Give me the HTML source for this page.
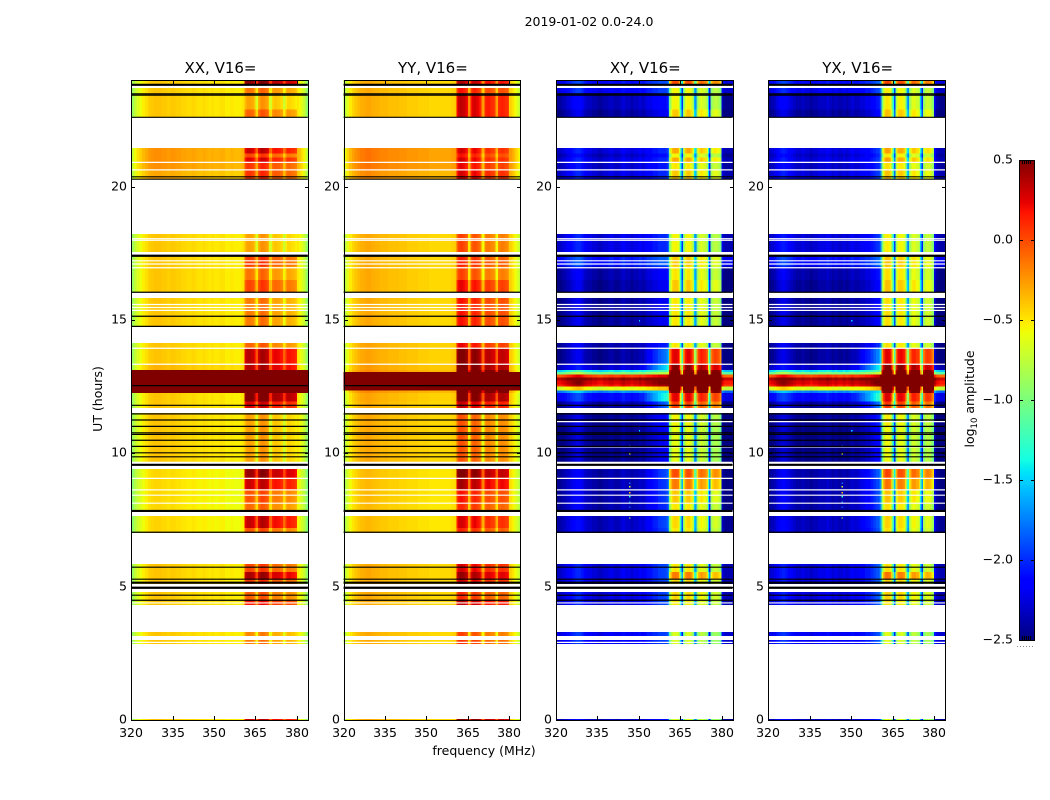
<!DOCTYPE html>
<html lang="en">
<head>
<meta charset="utf-8">
<title>2019-01-02 0.0-24.0</title>
<style>
html,body{margin:0;padding:0;background:#fff;width:1050px;height:800px;overflow:hidden}
svg{display:block}
text{font-family:"DejaVu Sans","Liberation Sans",sans-serif;fill:#000}
</style>
</head>
<body>
<svg id="figure" xmlns="http://www.w3.org/2000/svg" width="1050" height="800" viewBox="0 0 1050 800">
  <rect width="1050" height="800" fill="#fff"/>
  <text x="589" y="26" font-size="12.5" text-anchor="middle">2019-01-02 0.0-24.0</text>
  <text x="484" y="755" font-size="12.5" text-anchor="middle">frequency (MHz)</text>
  <text x="102" y="399" font-size="12.5" text-anchor="middle" transform="rotate(-90 102 399)">UT (hours)</text>
  <text x="974" y="399" font-size="12.5" text-anchor="middle" transform="rotate(-90 974 399)">log<tspan font-size="8.5" dy="3">10</tspan><tspan dy="-3"> amplitude</tspan></text>
  <g id="panels"></g>
  <g id="colorbar"></g>
</svg>
<script>
// ---------- data ----------
const xTicks = [320, 335, 350, 365, 380];
const yTicks = [0, 5, 10, 15, 20];
const colorTicks = [0.5, 0.0, -0.5, -1.0, -1.5, -2.0, -2.5];
const colorTickLabels = ['0.5', '0.0', '\u22120.5', '\u22121.0', '\u22121.5', '\u22122.0', '\u22122.5'];
const panelTitles = ['XX, V16=', 'YY, V16=', 'XY, V16=', 'YX, V16='];

// log10 amplitude per channel: 320..359 MHz in 1 MHz steps, 360..383.5 MHz in 0.5 MHz steps
const xxProfile = [-0.88,-0.75,-0.65,-0.59,-0.53,-0.48,-0.43,-0.41,-0.39,-0.39,
  -0.39,-0.41,-0.41,-0.43,-0.41,-0.41,-0.43,-0.43,-0.45,-0.45,
  -0.47,-0.47,-0.45,-0.47,-0.49,-0.49,-0.47,-0.49,-0.51,-0.49,
  -0.51,-0.51,-0.49,-0.49,-0.53,-0.53,-0.51,-0.53,-0.53,-0.53,
  -0.5,-0.48,-0.1,-0.02,0.02,0.02,0.02,0,-0.02,-0.1,
  -0.35,-0.35,-0.05,0.04,0.08,0.08,0.06,0.04,0,-0.06,
  -0.35,-0.38,-0.15,-0.1,-0.1,-0.1,-0.12,-0.12,-0.15,-0.18,
  -0.4,-0.42,-0.22,-0.15,-0.15,-0.15,-0.18,-0.18,-0.2,-0.25,
  -0.5,-0.52,-0.58,-0.62,-0.68,-0.72,-0.8,-0.95];
const yyProfile = [-0.78,-0.62,-0.52,-0.45,-0.4,-0.36,-0.33,-0.32,-0.3,-0.3,
  -0.32,-0.33,-0.34,-0.36,-0.36,-0.36,-0.38,-0.38,-0.38,-0.38,
  -0.4,-0.4,-0.4,-0.42,-0.42,-0.42,-0.42,-0.44,-0.44,-0.44,
  -0.44,-0.46,-0.46,-0.46,-0.46,-0.46,-0.46,-0.46,-0.46,-0.44,
  -0.42,-0.4,0.1,0.2,0.24,0.24,0.22,0.2,0.16,0.1,
  -0.3,-0.32,0.06,0.14,0.18,0.18,0.15,0.12,0.08,0.02,
  -0.35,-0.38,-0.02,0.03,0.05,0.05,0.02,0,-0.02,-0.05,
  -0.36,-0.38,-0.02,0.02,0.04,0.04,0.02,0,-0.02,-0.08,
  -0.42,-0.44,-0.48,-0.52,-0.58,-0.62,-0.68,-0.75];
const xyProfile = [-2.4,-2.4,-2.35,-2.3,-2.25,-2.2,-2.15,-2.1,-2.1,-2.15,
  -2.25,-2.3,-2.3,-2.35,-2.35,-2.4,-2.4,-2.35,-2.35,-2.3,
  -2.3,-2.35,-2.35,-2.3,-2.25,-2.3,-2.3,-2.35,-2.3,-2.3,
  -2.25,-2.3,-2.25,-2.2,-2.2,-2.15,-2.15,-2.1,-2.1,-2.1,
  -2.05,-1.9,-0.95,-0.65,-0.5,-0.45,-0.45,-0.45,-0.5,-0.75,
  -1.3,-1.9,-0.95,-0.6,-0.5,-0.45,-0.45,-0.5,-0.55,-0.8,
  -1.5,-1.7,-0.9,-0.68,-0.58,-0.54,-0.58,-0.62,-0.64,-0.78,
  -1.5,-2.0,-0.88,-0.76,-0.68,-0.66,-0.68,-0.72,-0.78,-0.92,
  -2.3,-2.4,-2.45,-2.45,-2.45,-2.45,-2.45,-2.45];
const yxProfile = [-2.4,-2.35,-2.3,-2.2,-2.15,-2.12,-2.15,-2.2,-2.25,-2.3,
  -2.35,-2.35,-2.3,-2.35,-2.35,-2.4,-2.35,-2.35,-2.3,-2.3,
  -2.3,-2.25,-2.3,-2.35,-2.3,-2.35,-2.35,-2.3,-2.35,-2.3,
  -2.25,-2.3,-2.3,-2.25,-2.25,-2.2,-2.2,-2.15,-2.1,-2.05,
  -2.0,-1.85,-0.95,-0.65,-0.48,-0.42,-0.42,-0.45,-0.5,-0.72,
  -1.3,-1.85,-0.95,-0.58,-0.48,-0.46,-0.46,-0.48,-0.55,-0.78,
  -1.45,-1.65,-0.9,-0.66,-0.56,-0.54,-0.56,-0.62,-0.64,-0.76,
  -1.45,-1.95,-0.88,-0.72,-0.65,-0.62,-0.65,-0.68,-0.75,-0.92,
  -2.2,-2.3,-2.4,-2.4,-2.45,-2.45,-2.45,-2.45];

// observing blocks (UT hours)
const rowHi = [24,23.7,23.48,22.9, 21.45,21.25,21.1,20.93,20.63, 18.23, 17.44,17.0,16.5, 15.83,
  14.14,13.95,13.35,13.13,13.05,12.95,12.84,12.73,12.58,12.5,12.35,12.26,11.95, 11.51,11.0,
  9.41,9.1,8.63,8.14, 7.65,7.2, 5.85,5.55,5.29, 4.8,4.5, 3.3,3.0, 0.04];
const rowLo = [23.79,23.48,22.9,22.61, 21.25,21.1,20.93,20.63,20.29, 17.55, 17.0,16.5,16.05, 14.74,
  13.95,13.35,13.13,13.05,12.95,12.84,12.73,12.58,12.5,12.35,12.26,11.95,11.7, 11.0,9.64,
  9.1,8.63,8.14,7.88, 7.2,7.01, 5.55,5.29,5.1, 4.5,4.31, 3.15,2.85, 0];

// per-block level offsets: outside the band, inside the band (361-379.5 MHz)
const xxOff = [0,0,0,0, .17,.17,.17,.17,.1, 0, 0,0,0, 0,
  0,0,.05,1.5,1.5,1.5,1.5,1.5,1.5,1.5,1.5,0,0, 0,0,
  -.06,-.06,-.06,-.06, -.05,-.05, 0,0,0, 0,0, 0,0, 0];
const xxIn = [.45,-.15,-.3,-.1, .28,0,.22,.05,.05, -.3, .02,-.15,0, -.18,
  -.1,.33,.35,1,1,1,1,1,1,1,1,.5,.25, -.3,-.3,
  .42,.28,-.05,-.12, .3,-.05, 0,.38,.05, -.08,.15, -.22,-.18, .3];
const yyOff = [0,0,0,0, .17,.17,.17,.17,.1, 0, 0,0,0, 0,
  .02,.02,.05,.1,1.5,1.5,1.5,1.5,1.5,1.5,.1,.02,0, 0,0,
  -.05,-.05,-.05,-.05, -.05,-.05, 0,0,0, 0,0, 0,0, 0];
const yyIn = [.15,-.05,.1,.1, .05,-.05,.05,0,.05, -.2, -.1,-.2,0, -.05,
  0,.3,.35,.5,1,1,1,1,1,1,.6,.35,.1, -.25,-.25,
  .3,.18,-.05,-.12, .05,-.1, .05,.22,.05, -.12,.12, -.2,-.15, .3];
const xyOff = [.2,.15,-.02,-.1, .08,0,.08,.03,.08, .08, .25,-.05,-.1, -.1,
  -.05,-.1,.05,.9,1.3,2.35,2.75,2.6,2.5,1.7,.6,.2,-.08, -.12,-.15,
  -.05,-.05,-.05,-.05, 0,0, .08,.08,.08, .08,.08, .15,.15, 0];
const xyIn = [.45,-.1,-.1,.05, .15,-.1,.15,-.05,.05, -.1, .05,-.05,.05, -.05,
  -.05,.7,.95,1.2,1.3,2.6,2.6,2.6,2.6,1.5,1.2,.7,.5, -.1,-.15,
  .45,.3,.05,-.05, 0,-.05, -.05,.3,0, 0,-.05, -.2,-.2, -.2];
const yxOff = [.2,.12,-.02,-.1, .08,.02,.08,.02,.08, .06, .22,-.05,-.1, -.1,
  -.05,-.1,.05,.9,1.3,2.35,2.75,2.6,2.5,1.7,.6,.2,-.08, -.12,-.15,
  -.05,-.05,-.05,-.05, 0,0, .08,.08,.08, .08,.08, .15,.15, 0];
const yxIn = [.45,-.1,-.08,.05, .15,-.08,.15,-.05,.05, -.1, .05,-.05,.05, -.05,
  -.05,.68,.95,1.2,1.3,2.6,2.6,2.6,2.6,1.5,1.2,.7,.5, -.1,-.15,
  .45,.3,.05,-.05, 0,-.05, -.05,.3,0, 0,-.05, -.2,-.2, -.2];
// extra leakage just below the band (350-360 MHz) in the cross hands
const crossLeak = [0,0,0,0, 0,0,0,0,0, 0, 0,0,0, 0,
  .1,.45,.6,0,0,0,0,0,0,0,0,.6,.35, .1,.05,
  .25,.2,.2,.15, .2,.15, .1,.1,.1, .1,.1, 0,0, 0];

// flagged integrations (UT hours)
const blankHours = [20.91,20.63,18.05,17.99,17.22,17.1,16.96,15.58,15.47,15.36,13.94,13.34,9.66,9.06,8.63,8.43,8.13,4.39,2.91];
const crossBlankHours = [11.19,10.24];
const flagHours = [23.48,23.43,22.6,20.37,20.28,16.04,15.14,14.76,11.8,11.48,11.25,11.01,10.77,10.71,10.49,10.26,10.02,9.87,7.04,5.73,5.28,4.68,4.49];
const autoFlagHours = [12.54];
const thickFlagHours = [23.82,17.41,9.57,7.84,5.15,4.96];

// isolated bright samples in the cross hands
const speckFreqs = [346.5,346.5,346.5,346.5,346.5,346.5,346.5,346.5,346.5,350,350];
const speckHours = [10.3,10.0,8.9,8.77,8.55,8.4,8.2,8.0,7.6,15.0,10.87];
const speckLevels = [-1.6,-0.7,-1.8,-0.7,-0.4,-1.3,-1.6,-1.9,-0.8,-1.5,-1.5];

// ---------- scales ----------
const NS = 'http://www.w3.org/2000/svg';
const plotTop = 80, plotBottom = 720, plotWidth = 176.6;
const freqStart = 320, freqSpan = 64, hourSpan = 24;
const colorMin = -2.5, colorMax = 0.5;
const yScale = h => plotBottom - (h / hourSpan) * (plotBottom - plotTop);
const xScale = (f, left) => left + ((f - freqStart) / freqSpan) * plotWidth;
const channelFreq = i => i < 40 ? freqStart + i : 360 + (i - 40) / 2;
const channelWidth = i => i < 40 ? 1 : 0.5;

function interp(stops, t) {
  for (let i = 1; i < stops.length; i++) {
    if (t <= stops[i][0]) {
      const a = stops[i - 1], b = stops[i];
      return a[1] + (b[1] - a[1]) * (t - a[0]) / (b[0] - a[0]);
    }
  }
  return stops[stops.length - 1][1];
}
const jetR = [[0,0],[.35,0],[.66,1],[.89,1],[1,.5]];
const jetG = [[0,0],[.125,0],[.375,1],[.64,1],[.91,0],[1,0]];
const jetB = [[0,.5],[.11,1],[.34,1],[.65,0],[1,0]];
function jet(v) {
  const t = Math.max(0, Math.min(1, (v - colorMin) / (colorMax - colorMin)));
  return 'rgb(' + [jetR, jetG, jetB].map(s => Math.round(interp(s, t) * 255)).join(',') + ')';
}
function make(parent, tag, attrs, txt) {
  const el = document.createElementNS(NS, tag);
  for (const k in attrs) el.setAttribute(k, attrs[k]);
  if (txt !== undefined) el.textContent = txt;
  parent.appendChild(el);
  return el;
}

// ---------- panels ----------
const panelLefts = [131.2, 343.6, 556, 768.4];
const panelProfiles = [xxProfile, yyProfile, xyProfile, yxProfile];
const panelOff = [xxOff, yyOff, xyOff, yxOff];
const panelIn = [xxIn, yyIn, xyIn, yxIn];
const panelsRoot = document.getElementById('panels');

panelTitles.forEach((title, p) => {
  const left = panelLefts[p];
  const right = left + plotWidth;
  const pxLeft = Math.round(left), pxRight = Math.round(right);
  const isCross = p >= 2;
  const g = make(panelsRoot, 'g', {});
  
  

  const heat = make(g, 'g', {'shape-rendering': 'crispEdges'});
  
  

  rowHi.forEach((hi, r) => {
    panelProfiles[p].forEach((level, c) => {
      const f = channelFreq(c);
      const inBand = f >= 361 && f < 380;
      let v = level + (inBand ? panelIn[p][r] : panelOff[p][r]);
      if (isCross && f >= 350 && f < 361) v += crossLeak[r] * Math.min(1, (f - 350) / 10);
      const x0 = xScale(f, left), x1 = xScale(f + channelWidth(c), left);
      const y0 = yScale(hi), y1 = yScale(rowLo[r]);
      const cell = make(heat, 'rect', {x: x0, y: y0, width: x1 - x0 + 0.3, height: y1 - y0, fill: jet(v)});
      
      
    });
  });

  if (isCross) {
    speckHours.forEach((h, i) => {
      const s = make(heat, 'rect', {x: xScale(speckFreqs[i], left), y: yScale(h), width: 1.4, height: 1.4, fill: jet(speckLevels[i])});
      
      
    });
  }

  const whites = isCross ? blankHours.concat(crossBlankHours) : blankHours;
  whites.forEach(h => {
    const l = make(g, 'line', {x1: left, x2: right, y1: yScale(h), y2: yScale(h), stroke: '#fff', 'stroke-width': 1.2});
    
    
  });
  const blacks = isCross ? flagHours : flagHours.concat(autoFlagHours);
  blacks.forEach(h => {
    const l = make(g, 'line', {x1: left, x2: right, y1: yScale(h), y2: yScale(h), stroke: '#000', 'stroke-width': 1.2});
    
    
  });
  thickFlagHours.forEach(h => {
    const l = make(g, 'line', {x1: left, x2: right, y1: yScale(h), y2: yScale(h), stroke: '#000', 'stroke-width': 2.2});
    
    
  });

  const frame = make(g, 'rect', {x: pxLeft + .5, y: plotTop + .5, width: pxRight - pxLeft, height: plotBottom - plotTop, fill: 'none', stroke: '#000', 'stroke-width': 1, 'shape-rendering': 'crispEdges'});
  
  

  const t = make(g, 'text', {x: left + plotWidth / 2 + 1, y: 73, 'font-size': 15, 'text-anchor': 'middle'}, title);
  
  

  xTicks.forEach(v => {
    const x = Math.round(xScale(v, left)) + .5;
    const tb = make(g, 'line', {x1: x, x2: x, y1: plotBottom, y2: plotBottom - 4, stroke: '#000', 'stroke-width': 1});
    
    
    const tt = make(g, 'line', {x1: x, x2: x, y1: plotTop, y2: plotTop + 4, stroke: '#000', 'stroke-width': 1});
    
    
    const lb = make(g, 'text', {x: x - .5, y: 737, 'font-size': 12.5, 'text-anchor': 'middle'}, String(v));
    
    
  });
  yTicks.forEach(v => {
    const y = Math.round(yScale(v)) + .5;
    const tl = make(g, 'line', {x1: pxLeft, x2: pxLeft + 4, y1: y, y2: y, stroke: '#000', 'stroke-width': 1});
    
    
    const tr = make(g, 'line', {x1: pxRight + 1, x2: pxRight - 3, y1: y, y2: y, stroke: '#000', 'stroke-width': 1});
    
    
    const lb = make(g, 'text', {x: pxLeft - 4, y: y + 3, 'font-size': 12.5, 'text-anchor': 'end'}, String(v));
    
    
  });
});

// ---------- colorbar ----------
const cb = document.getElementById('colorbar');
const cbLeft = 1019, cbWidth = 15, cbTop = 160, cbBottom = 640;
const cbY = v => cbBottom - ((v - colorMin) / (colorMax - colorMin)) * (cbBottom - cbTop);
const cbSteps = 240;
const cbStrip = make(cb, 'g', {'shape-rendering': 'crispEdges'});


for (let i = 0; i < cbSteps; i++) {
  const v0 = colorMin + (i / cbSteps) * (colorMax - colorMin);
  const v1 = colorMin + ((i + 1) / cbSteps) * (colorMax - colorMin);
  make(cbStrip, 'rect', {x: cbLeft, y: cbY(v1), width: cbWidth, height: cbY(v0) - cbY(v1) + .5, fill: jet(v0)});
}
const cbFrame = make(cb, 'rect', {x: cbLeft + .5, y: cbTop + .5, width: cbWidth, height: cbBottom - cbTop, fill: 'none', stroke: '#000', 'stroke-width': 1, 'shape-rendering': 'crispEdges'});


colorTicks.forEach((v, i) => {
  const y = Math.round(cbY(v)) + .5;
  const a = make(cb, 'line', {x1: cbLeft, x2: cbLeft + 4, y1: y, y2: y, stroke: '#000', 'stroke-width': 1});
  
  
  const b = make(cb, 'line', {x1: cbLeft + cbWidth + 1, x2: cbLeft + cbWidth - 3, y1: y, y2: y, stroke: '#000', 'stroke-width': 1});
  
  
  const lb = make(cb, 'text', {x: 1013, y: y + 3, 'font-size': 12.5, 'text-anchor': 'end'}, colorTickLabels[i]);
  
  
});
[1022.5, 1024.5, 1026.5, 1028.5, 1030.5].forEach(x => {
  const top = make(cb, 'line', {x1: x, x2: x, y1: cbTop, y2: cbTop + 4, stroke: '#000', 'stroke-width': 1});
  
  
  const bottom = make(cb, 'line', {x1: x, x2: x, y1: cbBottom, y2: cbBottom - 4, stroke: '#000', 'stroke-width': 1});
  
  
});
const dots = make(cb, 'line', {x1: 1017, x2: 1035, y1: 646.5, y2: 646.5, stroke: '#888', 'stroke-width': 1, 'stroke-dasharray': '1 2'});


</script>
</body>
</html>
